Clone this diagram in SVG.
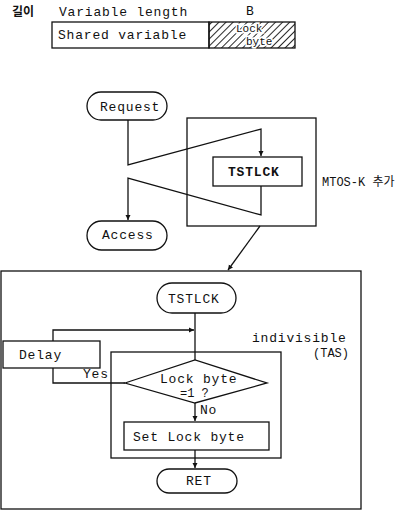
<svg xmlns="http://www.w3.org/2000/svg" width="417" height="512" viewBox="0 0 417 512">
<style>
  .ln{fill:none;stroke:#111;stroke-width:1.3}
  .bx{fill:#fff;stroke:#111;stroke-width:1.3}
  .t{font-family:"Liberation Mono","DejaVu Sans Mono",monospace;font-size:13px;fill:#111;letter-spacing:0.8px}
  .tb{font-weight:bold}
  .s{font-size:12px;letter-spacing:0}
  .xs{font-size:11px;letter-spacing:0}
  .k{font-family:"Noto Sans CJK KR","Noto Sans",sans-serif;font-size:12px;fill:#111}
  .kb{font-weight:bold}
  .halo{stroke:#fff;stroke-width:3px;paint-order:stroke}
</style>
<defs>
  <pattern id="hatch" patternUnits="userSpaceOnUse" width="5" height="5" patternTransform="rotate(45)">
    <line x1="0" y1="0" x2="0" y2="5" stroke="#111" stroke-width="1.8"/>
  </pattern>
  <marker id="ar" markerWidth="6" markerHeight="6" refX="5" refY="3" orient="auto" markerUnits="userSpaceOnUse">
    <path d="M0,0.5 L5,3 L0,5.5 Z" fill="#111"/>
  </marker>
</defs>

<g id="header">
  <text class="k kb" x="12" y="16">길이</text>
  <text class="t" x="59" y="16">Variable length</text>
  <text class="t" x="246" y="15">B</text>
</g>
<g id="shared-variable">
  <rect class="bx" x="52" y="22" width="157" height="26"/>
  <text class="t" x="58" y="39">Shared variable</text>
</g>
<g id="lock-byte-field">
  <rect x="209" y="22" width="86" height="26" fill="url(#hatch)" stroke="#111" stroke-width="1.3"/>
  <text class="t xs halo" x="236" y="32">Lock</text>
  <text class="t xs halo" x="246" y="45">byte</text>
</g>

<g id="connectors">
  <path class="ln" d="M128,120 V165 L261,129 V156" marker-end="url(#ar)"/>
  <path class="ln" d="M261,186 V215 L128,178 V220" marker-end="url(#ar)"/>
  <path class="ln" d="M260,226 L228,270" marker-end="url(#ar)"/>
  <path class="ln" d="M195,313 V360"/>
  <path class="ln" d="M125,383 H53 V368"/>
  <path class="ln" d="M53,341 V330 H194" marker-end="url(#ar)"/>
  <path class="ln" d="M195,403 V421" marker-end="url(#ar)"/>
  <path class="ln" d="M195,450 V468" marker-end="url(#ar)"/>
</g>

<g id="request">
  <rect class="bx" x="87" y="92" width="80" height="28" rx="14"/>
  <text class="t" x="100" y="111">Request</text>
</g>
<g id="mtos-box">
  <rect class="ln" x="187" y="118" width="129" height="108"/>
</g>
<g id="tstlck-call">
  <rect class="bx" x="213" y="157" width="89" height="29"/>
  <text class="t tb" x="228" y="176">TSTLCK</text>
</g>
<g id="access">
  <rect class="bx" x="87" y="221" width="80" height="29" rx="14.5"/>
  <text class="t" x="102" y="239">Access</text>
</g>
<g id="mtos-label">
  <text class="t s" x="322" y="186">MTOS-K <tspan class="k">추가</tspan></text>
</g>

<g id="tstlck-routine">
  <rect class="ln" x="1" y="271" width="360" height="238"/>
</g>
<g id="tstlck-start">
  <rect class="bx" x="157" y="283" width="79" height="30" rx="15"/>
  <text class="t" x="168" y="303">TSTLCK</text>
</g>
<g id="delay">
  <rect class="bx" x="3" y="341" width="97" height="27"/>
  <text class="t" x="19" y="359">Delay</text>
</g>
<g id="indivisible">
  <rect class="ln" x="111" y="352" width="170" height="106"/>
  <text class="t" x="252" y="342">indivisible</text>
  <text class="t s" x="313" y="357">(TAS)</text>
</g>
<g id="decision">
  <polygon class="bx" points="125,383 195,360 267,383 195,403"/>
  <text class="t" x="160" y="383">Lock byte</text>
  <text class="t s" x="180" y="397">=1 ?</text>
  <text class="t" x="83" y="378">Yes</text>
  <text class="t" x="200" y="414">No</text>
</g>
<g id="set-lock">
  <rect class="bx" x="124" y="422" width="145" height="28"/>
  <text class="t" x="133" y="441">Set Lock byte</text>
</g>
<g id="ret">
  <rect class="bx" x="157" y="469" width="80" height="24" rx="12"/>
  <text class="t" x="186" y="485">RET</text>
</g>
</svg>
